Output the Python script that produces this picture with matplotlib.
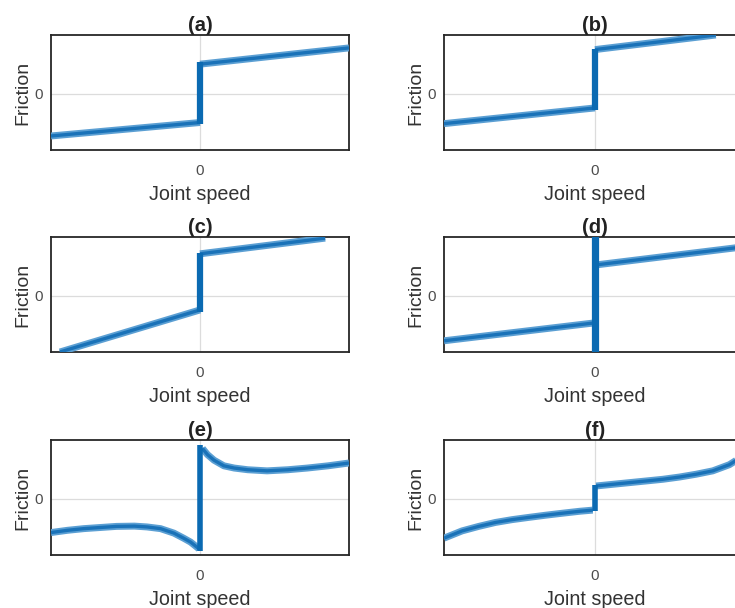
import matplotlib
matplotlib.use("Agg")
import matplotlib.pyplot as plt

plt.rcParams['font.family'] = ['Liberation Sans', 'DejaVu Sans']

W, H = 735, 608
titles = ["(a)", "(b)", "(c)", "(d)", "(e)", "(f)"]

# negative-speed branch, zero-speed stick, positive-speed branch (normalised units)
neg_x = [
    [-1.0, 0.0],
    [-1.0, 0.0],
    [-0.94, 0.0],
    [-1.0, 0.0],
    [-1.0, -0.89, -0.78, -0.67, -0.56, -0.44, -0.355, -0.265, -0.175, -0.11,
     -0.063, -0.03, -0.007],
    [-1.0, -0.88, -0.77, -0.66, -0.55, -0.44, -0.325, -0.215, -0.10, -0.015],
]
neg_y = [
    [-0.75, -0.51],
    [-0.53, -0.25],
    [-1.00, -0.25],
    [-0.80, -0.48],
    [-0.60, -0.56, -0.53, -0.51, -0.49, -0.485, -0.50, -0.53, -0.61, -0.70,
     -0.77, -0.84, -0.89],
    [-0.70, -0.57, -0.49, -0.42, -0.37, -0.33, -0.29, -0.255, -0.22, -0.20],
]
stick_lo = [-0.53, -0.28, -0.28, -1.05, -0.92, -0.22]
stick_hi = [0.57, 0.80, 0.77, 1.10, 0.96, 0.25]
pos_x = [
    [0.0, 1.0],
    [0.0, 0.80],
    [0.0, 0.84],
    [0.0, 1.0],
    [0.016, 0.05, 0.094, 0.16, 0.23, 0.32, 0.45, 0.59, 0.72, 0.86, 1.0],
    [0.007, 0.117, 0.228, 0.34, 0.45, 0.56, 0.67, 0.78, 0.89, 0.925, 1.0],
]
pos_y = [
    [0.53, 0.82],
    [0.79, 1.05],
    [0.75, 1.03],
    [0.55, 0.88],
    [0.90, 0.79, 0.69, 0.59, 0.55, 0.52, 0.50, 0.52, 0.55, 0.59, 0.64],
    [0.23, 0.26, 0.29, 0.32, 0.35, 0.39, 0.44, 0.50, 0.61, 0.67, 0.80],
]
stick_w = [4.5, 4.5, 4.5, 5.2, 4.0, 4.0]

fig = plt.figure(figsize=(W / 100, H / 100), dpi=100)

col_left = [51, 444]
col_width = [298, 302]
row_top = [35, 237, 440]
row_h = 115

blue = '#1a72b8'
light = '#5b9fd3'
frame = '#262626'

for i in range(6):
    r, c = divmod(i, 2)
    left = col_left[c] / W
    bottom = 1 - (row_top[r] + row_h) / H
    ax = fig.add_axes([left, bottom, col_width[c] / W, row_h / H])
    ax.set_xlim(-1, 1)
    ax.set_ylim(-1, 1.05)
    for xs, ys in ((neg_x[i], neg_y[i]), (pos_x[i], pos_y[i])):
        ax.plot(xs, ys, color=light, lw=5.0, solid_capstyle='butt', zorder=3)
        ax.plot(xs, ys, color=blue, lw=2.4, solid_capstyle='butt', zorder=4)
    ax.plot([0, 0], [stick_lo[i], stick_hi[i]], color='#0b6ab2', lw=stick_w[i],
            solid_capstyle='butt', zorder=5)
    ax.set_xticks([0])
    ax.set_yticks([0])
    ax.grid(True, color='#dcdcdc', lw=0.9)
    ax.set_axisbelow(True)
    ax.tick_params(length=0, labelsize=11, colors='#4d4d4d')
    ax.tick_params(axis='x', pad=10)
    ax.tick_params(axis='y', pad=6)
    for s in ax.spines.values():
        s.set_color(frame)
        s.set_linewidth(1.3)
    ax.set_xlabel("Joint speed", fontsize=14.2, color='#333333', labelpad=5)
    ax.set_ylabel("Friction", fontsize=14, color='#333333', labelpad=2)
    ax.set_title(titles[i], fontsize=14.5, fontweight='bold', color='#222222', pad=2)

fig.savefig("out.png", dpi=100)
